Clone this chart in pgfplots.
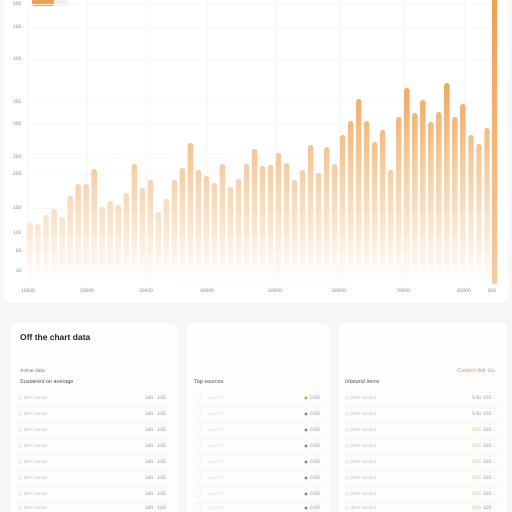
\documentclass[border=0pt]{standalone}
\usepackage{pgfplots}
\usepackage{pgfplotstable}
\pgfplotsset{compat=1.18}
\usepackage{fontspec}
\setmainfont{Liberation Sans}
\newfontfamily\symfont{DejaVu Sans}

\definecolor{barorange}{HTML}{EEA95E}
\definecolor{peakorange}{HTML}{F0A050}
\definecolor{pagebg}{HTML}{F6F6F6}
\definecolor{cardbg}{HTML}{FDFDFD}
\definecolor{cardline}{HTML}{EBEBEB}
\definecolor{ticktxt}{HTML}{8C8C8C}
\definecolor{lighttxt}{HTML}{C4C4C4}
\definecolor{midtxt}{HTML}{9A9A9A}
\definecolor{darktxt}{HTML}{262626}
\definecolor{linkorange}{HTML}{E8923A}
\definecolor{paleorange}{HTML}{F2B47A}

% bar heights, one row per bar
\pgfplotstableread{
idx val
1 60
2 59
3 68
4 74
5 66
6 87
7 99
8 99
9 114
10 76
11 82
12 78
13 90
14 119
15 95
16 103
17 71
18 84
19 103
20 115
21 140
22 113
23 107
24 100
25 119
26 96
27 104
28 119
29 134
30 117
31 118
32 130
33 120
34 103
35 113
36 138
37 110
38 136
39 119
40 148
41 162
42 184
43 162
44 141
45 153
46 113
47 166
48 195
49 170
50 183
51 161
52 171
53 200
54 166
55 179
56 148
57 139
58 155
}\bardata

\pgfplotstableread{
idx val
59 283
}\peakdata

\begin{document}
\begin{tikzpicture}
\useasboundingbox (0,0) rectangle (512bp,-512bp);
\clip (0,0) rectangle (512bp,-512bp);
\fill[pagebg] (0,0) rectangle (512bp,-512bp);

% chart card
\draw[cardline, fill=white, rounded corners=6bp] (3bp,10bp) rectangle (509bp,-303bp);

% legend pills (cut off at the top)
\fill[peakorange, rounded corners=2bp] (32bp,4bp) rectangle (54bp,-6bp);
\fill[gray!12, rounded corners=2bp] (55bp,4bp) rectangle (68bp,-6bp);

\begin{axis}[
    at={(27bp,-283bp)}, anchor=south west,
    scale only axis,
    width=470bp, height=283bp,
    xmin=0.626, xmax=59.25,
    ymin=0, ymax=283,
    axis line style={draw=none},
    major tick length=0pt,
    grid=major,
    major grid style={draw=gray!6, line width=0.4pt},
    xtick={0.75,8.11,15.47,23.08,31.56,39.54,47.53,55.14,58.63},
    xticklabels={10000,20000,30000,40000,50000,60000,70000,80000,900},
    ytick={279,256,224,181,159,126,109,75,50,32,12},
    yticklabels={500,450,400,350,300,250,200,150,100,50,10},
    ticklabel style={font=\fontsize{5}{6}\selectfont, text=ticktxt},
    xticklabel style={yshift=-2bp},
    yticklabel style={xshift=-2bp},
    /pgf/number format/assume math mode=true,
    bar shift=0pt,
]
\addplot[ybar, bar width=5.4bp, draw=none, rounded corners=2.5bp,
         top color=barorange, middle color=barorange!40!white, bottom color=white]
    table[x=idx, y=val] {\bardata};
\addplot[ybar, bar width=5.6bp, draw=none,
         top color=peakorange, bottom color=peakorange!55!white]
    table[x=idx, y=val] {\peakdata};
\end{axis}

% bottom cards
\draw[cardline, fill=cardbg, rounded corners=6bp] (10bp,-322bp) rectangle (178bp,-530bp);
\draw[cardline, fill=cardbg, rounded corners=6bp] (186bp,-322bp) rectangle (330bp,-530bp);
\draw[cardline, fill=cardbg, rounded corners=6bp] (338bp,-322bp) rectangle (508bp,-530bp);

% card 1
\node[anchor=west, text=darktxt, font=\fontsize{8.5}{10}\selectfont\bfseries, inner sep=0pt]
    at (20bp,-337bp) {Off the chart data};
\node[anchor=west, text=midtxt!80!black, font=\fontsize{5}{6}\selectfont, inner sep=0pt]
    at (20bp,-371bp) {Active data};
\node[anchor=west, text=darktxt!80, font=\fontsize{5.5}{6}\selectfont, inner sep=0pt]
    at (20bp,-382bp) {Sustained on average};
\foreach \y in {398,414,430,446,462,478,494,508} {
  \draw[gray!8, line width=0.4pt] (18bp,-\y*1bp-8bp) -- (170bp,-\y*1bp-8bp);
  \node[anchor=west, text=lighttxt, font=\fontsize{5}{6}\selectfont, inner sep=0pt]
      at (18bp,-\y*1bp) {{\symfont ○} item name};
  \node[anchor=east, text=midtxt, font=\fontsize{5}{6}\selectfont, inner sep=0pt]
      at (166bp,-\y*1bp) {180\hspace{4bp}160};
}

% card 2
\node[anchor=west, text=darktxt!80, font=\fontsize{5.5}{6}\selectfont, inner sep=0pt]
    at (194bp,-382bp) {Top sources};
\foreach \y [count=\i] in {398,414,430,446,462,478,494,508} {
  \draw[gray!8, line width=0.4pt] (194bp,-\y*1bp-8bp) -- (324bp,-\y*1bp-8bp);
  \node[anchor=west, text=gray!18, font=\fontsize{7}{7}\selectfont, inner sep=0pt]
      at (194bp,-\y*1bp) {{\symfont ◯}};
  \node[anchor=west, text=gray!25, font=\fontsize{5}{6}\selectfont, inner sep=0pt]
      at (208bp,-\y*1bp) {source};
  \ifnum\i=1
    \node[anchor=east, text=linkorange, font=\fontsize{4}{5}\selectfont, inner sep=0pt]
        at (308bp,-\y*1bp) {{\symfont ●}};
  \else
    \node[anchor=east, text=brown!55!gray, font=\fontsize{4}{5}\selectfont, inner sep=0pt]
        at (308bp,-\y*1bp) {{\symfont ●}};
  \fi
  \node[anchor=west, text=midtxt, font=\fontsize{5}{6}\selectfont, inner sep=0pt]
      at (310bp,-\y*1bp) {0.00};
}

% card 3
\node[anchor=east, text=linkorange, font=\fontsize{5.5}{6}\selectfont, inner sep=0pt]
    at (486bp,-371bp) {Custom link};
\node[anchor=west, text=midtxt, font=\fontsize{5}{6}\selectfont, inner sep=0pt]
    at (488bp,-371bp) {Go};
\node[anchor=west, text=darktxt!80, font=\fontsize{5.5}{6}\selectfont\itshape, inner sep=0pt]
    at (345bp,-382bp) {Inbound items};
\foreach \y [count=\i] in {398,414,430,446,462,478,494,508} {
  \draw[gray!8, line width=0.4pt] (344bp,-\y*1bp-8bp) -- (500bp,-\y*1bp-8bp);
  \node[anchor=west, text=lighttxt, font=\fontsize{5}{6}\selectfont, inner sep=0pt]
      at (345bp,-\y*1bp) {{\symfont ○} item record};
  \ifnum\i<3
    \node[anchor=east, text=midtxt, font=\fontsize{5}{6}\selectfont, inner sep=0pt]
        at (481bp,-\y*1bp) {540};
  \else
    \node[anchor=east, text=paleorange, font=\fontsize{5}{6}\selectfont, inner sep=0pt]
        at (481bp,-\y*1bp) {540};
  \fi
  \node[anchor=west, text=midtxt, font=\fontsize{5}{6}\selectfont, inner sep=0pt]
      at (483bp,-\y*1bp) {100};
}
\end{tikzpicture}
\end{document}
